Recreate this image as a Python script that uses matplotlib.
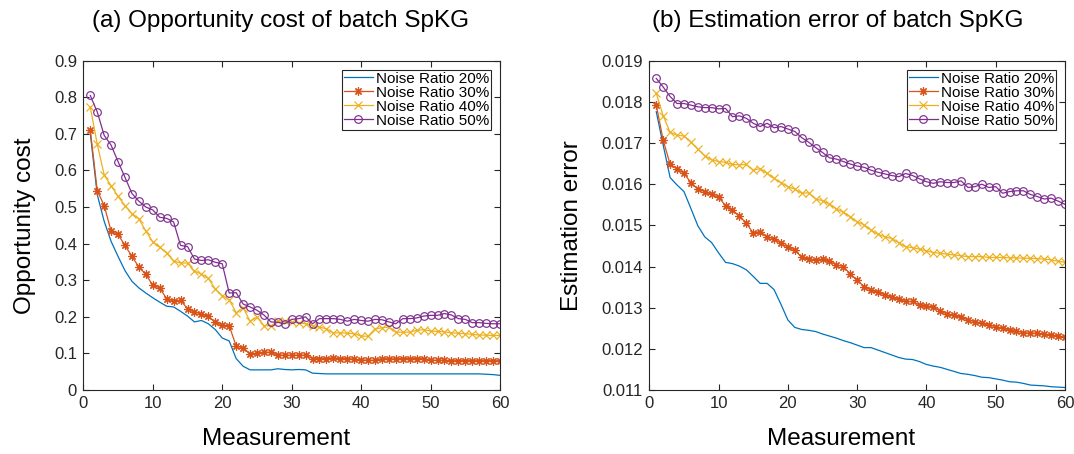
import numpy as np
import matplotlib.pyplot as plt

plt.rcParams['font.family'] = ['Liberation Sans', 'DejaVu Sans']

measure = np.arange(1, 61)
labels = ['Noise Ratio 20%', 'Noise Ratio 30%', 'Noise Ratio 40%', 'Noise Ratio 50%']

# (a) opportunity cost
oc_20 = [0.702, 0.534, 0.461, 0.406, 0.365, 0.326, 0.297, 0.279, 0.265, 0.252,
         0.240, 0.229, 0.227, 0.215, 0.202, 0.186, 0.190, 0.181, 0.165, 0.142,
         0.134, 0.086, 0.065, 0.055, 0.055, 0.055, 0.055, 0.058, 0.056, 0.055,
         0.056, 0.055, 0.046, 0.045, 0.044, 0.044, 0.044, 0.044, 0.044, 0.044,
         0.044, 0.044, 0.044, 0.044, 0.044, 0.044, 0.044, 0.044, 0.044, 0.044,
         0.044, 0.044, 0.044, 0.044, 0.044, 0.044, 0.044, 0.043, 0.042, 0.040]
oc_30 = [0.711, 0.545, 0.504, 0.434, 0.425, 0.395, 0.365, 0.336, 0.316, 0.286,
         0.279, 0.249, 0.243, 0.245, 0.222, 0.214, 0.207, 0.201, 0.185, 0.177,
         0.176, 0.120, 0.115, 0.099, 0.100, 0.103, 0.103, 0.095, 0.095, 0.095,
         0.095, 0.095, 0.086, 0.086, 0.086, 0.088, 0.086, 0.086, 0.084, 0.082,
         0.081, 0.081, 0.086, 0.085, 0.085, 0.086, 0.086, 0.086, 0.086, 0.081,
         0.081, 0.081, 0.080, 0.080, 0.080, 0.080, 0.080, 0.080, 0.080, 0.080]
oc_40 = [0.773, 0.672, 0.588, 0.558, 0.529, 0.504, 0.482, 0.468, 0.434, 0.405,
         0.390, 0.374, 0.352, 0.347, 0.347, 0.325, 0.317, 0.305, 0.276, 0.258,
         0.247, 0.211, 0.225, 0.188, 0.199, 0.176, 0.175, 0.188, 0.188, 0.185,
         0.184, 0.181, 0.175, 0.172, 0.167, 0.156, 0.156, 0.155, 0.154, 0.147,
         0.147, 0.167, 0.170, 0.172, 0.158, 0.158, 0.158, 0.163, 0.165, 0.161,
         0.160, 0.159, 0.156, 0.155, 0.154, 0.152, 0.150, 0.150, 0.149, 0.149]
oc_50 = [0.805, 0.760, 0.696, 0.669, 0.624, 0.581, 0.537, 0.516, 0.500, 0.492,
         0.472, 0.469, 0.459, 0.395, 0.392, 0.358, 0.354, 0.356, 0.349, 0.345,
         0.265, 0.266, 0.235, 0.227, 0.218, 0.205, 0.186, 0.185, 0.181, 0.193,
         0.195, 0.200, 0.181, 0.195, 0.195, 0.195, 0.193, 0.188, 0.193, 0.190,
         0.188, 0.193, 0.192, 0.186, 0.181, 0.195, 0.195, 0.197, 0.202, 0.204,
         0.204, 0.209, 0.205, 0.195, 0.193, 0.184, 0.184, 0.182, 0.181, 0.181]

# (b) estimation error
ee_20 = [0.01776, 0.01695, 0.01616, 0.01598, 0.01582, 0.01541, 0.01499, 0.01472, 0.01458, 0.01433,
         0.01410, 0.01407, 0.01401, 0.01392, 0.01376, 0.01359, 0.01359, 0.01344, 0.01308, 0.01270,
         0.01252, 0.01247, 0.01245, 0.01242, 0.01236, 0.01231, 0.01226, 0.01220, 0.01215, 0.01209,
         0.01203, 0.01203, 0.01197, 0.01191, 0.01185, 0.01179, 0.01175, 0.01174, 0.01169, 0.01162,
         0.01158, 0.01155, 0.01150, 0.01145, 0.01140, 0.01138, 0.01135, 0.01131, 0.01130, 0.01127,
         0.01124, 0.01120, 0.01119, 0.01116, 0.01112, 0.01111, 0.01110, 0.01108, 0.01107, 0.01106]
ee_30 = [0.01792, 0.01707, 0.01648, 0.01638, 0.01626, 0.01604, 0.01588, 0.01582, 0.01575, 0.01568,
         0.01548, 0.01537, 0.01523, 0.01505, 0.01481, 0.01485, 0.01471, 0.01468, 0.01456, 0.01447,
         0.01440, 0.01422, 0.01418, 0.01416, 0.01418, 0.01413, 0.01404, 0.01400, 0.01382, 0.01367,
         0.01351, 0.01343, 0.01337, 0.01331, 0.01325, 0.01320, 0.01315, 0.01315, 0.01306, 0.01305,
         0.01301, 0.01292, 0.01284, 0.01281, 0.01277, 0.01270, 0.01266, 0.01262, 0.01258, 0.01254,
         0.01250, 0.01246, 0.01243, 0.01239, 0.01238, 0.01238, 0.01235, 0.01234, 0.01231, 0.01228]
ee_40 = [0.01821, 0.01766, 0.01726, 0.01719, 0.01717, 0.01702, 0.01685, 0.01669, 0.01659, 0.01655,
         0.01653, 0.01648, 0.01647, 0.01648, 0.01634, 0.01638, 0.01626, 0.01614, 0.01604, 0.01594,
         0.01588, 0.01578, 0.01579, 0.01564, 0.01560, 0.01552, 0.01540, 0.01532, 0.01521, 0.01509,
         0.01501, 0.01489, 0.01478, 0.01472, 0.01468, 0.01458, 0.01448, 0.01446, 0.01442, 0.01438,
         0.01434, 0.01432, 0.01430, 0.01428, 0.01426, 0.01424, 0.01424, 0.01424, 0.01422, 0.01422,
         0.01422, 0.01421, 0.01421, 0.01420, 0.01420, 0.01419, 0.01418, 0.01416, 0.01413, 0.01410]
ee_50 = [0.01857, 0.01836, 0.01813, 0.01796, 0.01796, 0.01792, 0.01788, 0.01786, 0.01786, 0.01783,
         0.01784, 0.01764, 0.01766, 0.01760, 0.01748, 0.01740, 0.01748, 0.01737, 0.01740, 0.01734,
         0.01728, 0.01713, 0.01702, 0.01689, 0.01677, 0.01664, 0.01661, 0.01655, 0.01649, 0.01644,
         0.01641, 0.01634, 0.01629, 0.01625, 0.01621, 0.01618, 0.01626, 0.01621, 0.01613, 0.01606,
         0.01602, 0.01606, 0.01604, 0.01604, 0.01608, 0.01592, 0.01594, 0.01600, 0.01592, 0.01594,
         0.01578, 0.01582, 0.01584, 0.01584, 0.01575, 0.01570, 0.01564, 0.01566, 0.01559, 0.01551]

colors = ['#0072BD', '#D95319', '#EDB120', '#7E2F8E']
markers = [None, (8, 2, 0), 'x', 'o']

fig = plt.figure(figsize=(10.74, 4.54), dpi=100)
ax1 = fig.add_axes([0.0776, 0.141, 0.388, 0.7253])
ax2 = fig.add_axes([0.6046, 0.141, 0.387, 0.7253])


def draw(ax, series, title, tx, ylabel, yticks, ytl):
    for s, c, m, lab in zip(series, colors, markers, labels):
        ax.plot(measure, s, color=c, marker=m, markersize=5.5 if m == 'o' else 6,
                markerfacecolor='none', markeredgewidth=0.85, linewidth=0.9, label=lab)
    ax.set_xlim(0, 60)
    ax.set_xticks(np.arange(0, 61, 10))
    ax.set_yticks(yticks)
    ax.set_yticklabels(ytl)
    ax.set_ylim(yticks[0], yticks[-1])
    ax.tick_params(direction='in', top=True, right=True, labelsize=12, length=4,
                   width=0.8, colors='#262626', pad=4.5)
    for sp in ax.spines.values():
        sp.set_color('#262626')
        sp.set_linewidth(0.8)
    ax.set_xlabel('Measurement', fontsize=17.5, labelpad=12, x=0.462)
    ax.set_ylabel(ylabel, fontsize=17.5, labelpad=13)
    ax.set_title(title, fontsize=17.5, x=tx, pad=24)
    leg = ax.legend(loc='upper right', fontsize=11, handlelength=1.9, handletextpad=0.2,
                    labelspacing=0.0, borderpad=0.12, borderaxespad=0.6,
                    fancybox=False, framealpha=1)
    leg.get_frame().set_edgecolor('#262626')
    leg.get_frame().set_linewidth(0.8)


draw(ax1, [oc_20, oc_30, oc_40, oc_50], '(a) Opportunity cost of batch SpKG', 0.474,
     'Opportunity cost', np.round(np.arange(0, 0.91, 0.1), 1),
     ['0'] + ['%.1f' % v for v in np.arange(0.1, 0.91, 0.1)])
draw(ax2, [ee_20, ee_30, ee_40, ee_50], '(b) Estimation error of batch SpKG', 0.454,
     'Estimation error', np.round(np.arange(0.011, 0.0191, 0.001), 3),
     ['%.3f' % v for v in np.arange(0.011, 0.0191, 0.001)])

fig.savefig('out.png', dpi=100)
